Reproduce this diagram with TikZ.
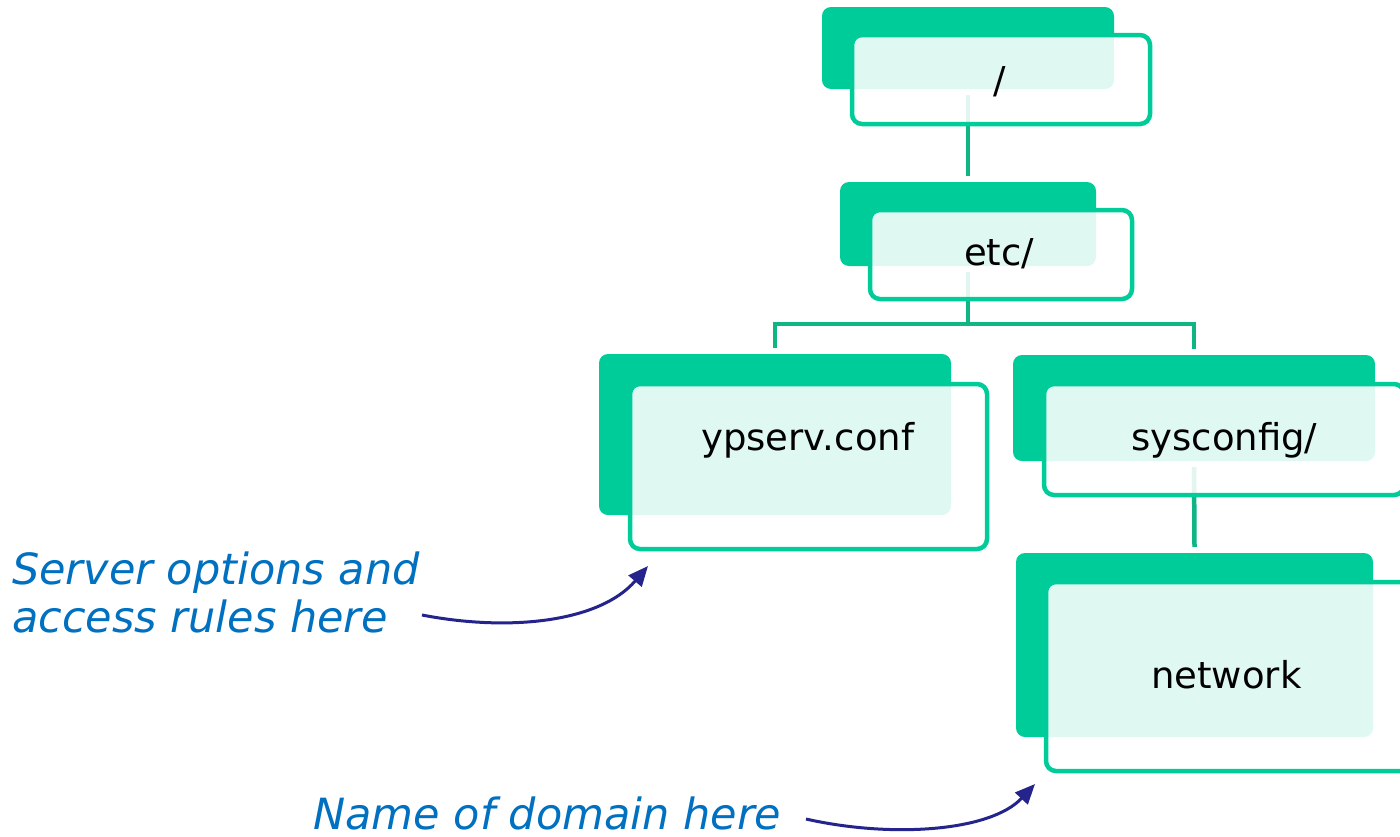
\documentclass[tikz,border=0pt]{standalone}
\usepackage{fontspec}
\setmainfont{DejaVu Sans}
\usetikzlibrary{arrows.meta}
\definecolor{boxgreen}{HTML}{00CC99}
\definecolor{linkgreen}{HTML}{10B584}
\definecolor{notenavy}{HTML}{24248C}
\definecolor{noteblue}{HTML}{0070C0}
\tikzset{
  backbox/.style={draw=none, fill=boxgreen, rounded corners=9pt, inner sep=0pt},
  frontbox/.style={draw=boxgreen, line width=4.5pt, fill=white, fill opacity=0.88, rounded corners=10pt, inner sep=0pt},
  boxtext/.style={inner sep=0pt, font=\fontsize{37}{40}\selectfont, text=black},
  link/.style={draw=linkgreen, line width=4.5pt},
  note/.style={inner sep=0pt, font=\fontsize{43}{48}\selectfont\itshape, text=noteblue, align=left},
  notearrow/.style={draw=notenavy, line width=3pt, -{Triangle[length=20pt,width=17pt]}}
}
\begin{document}
\begin{tikzpicture}[x=1pt,y=-1pt]
\clip (0,0) rectangle (1400,836);
\fill[white] (0,0) rectangle (1400,836);

% back boxes
\node[backbox, minimum width=292pt, minimum height=82pt] (b1) at (968,48) {};
\node[backbox, minimum width=256pt, minimum height=84pt] (b2) at (968,224) {};
\node[backbox, minimum width=352pt, minimum height=161pt] (b3) at (775,434.5) {};
\node[backbox, minimum width=362pt, minimum height=106pt] (b4) at (1194,408) {};
\node[backbox, minimum width=357pt, minimum height=184pt] (b5) at (1194.5,645) {};

% connectors
\coordinate (fork) at (968,324);
\draw[link] ([yshift=-6pt]b1.south) -- ([yshift=6pt]b2.north);
\draw[link] ([yshift=-6pt]b2.south) -- (fork);
\draw[link] ([yshift=6pt]b3.north) |- (fork) -| ([yshift=6pt]b4.north);
\draw[link] ([yshift=-6pt]b4.south) -- ([yshift=6pt]b5.north);

% front boxes
\node[frontbox, minimum width=298pt, minimum height=89pt] (f1) at (1001,79.5) {};
\node[frontbox, minimum width=262pt, minimum height=89pt] (f2) at (1001,254.5) {};
\node[frontbox, minimum width=357pt, minimum height=165pt] (f3) at (808.5,466.5) {};
\node[frontbox, minimum width=360pt, minimum height=111pt] (f4) at (1224,439.5) {};
\node[frontbox, minimum width=364pt, minimum height=189pt] (f5) at (1228,676.5) {};

% texts
\node[boxtext, anchor=base] (t1) at (1000,93) {/};
\node[boxtext, anchor=base west] (t2) at (964,265) {etc/};
\node[boxtext, anchor=base west] (t3) at (701,450) {ypserv.conf};
\node[boxtext, anchor=base west] (t4) at (1131,450) {sysconfig/};
\node[boxtext, anchor=base west] (t5) at (1151,688) {network};

% notes
\node[note, anchor=north west] (n1) at (12,552) {Server options and\\access rules here};
\node[note, anchor=base west] (n2) at (313,829) {Name of domain here};

\coordinate (a1s) at (422,615);
\coordinate (a1e) at (648,566);
\coordinate (a2s) at (806,819);
\coordinate (a2e) at (1035,784);
\draw[notearrow] (a1s) .. controls (510,632) and (600,622) .. (a1e);
\draw[notearrow] (a2s) .. controls (890,838) and (990,832) .. (a2e);
\end{tikzpicture}
\end{document}
